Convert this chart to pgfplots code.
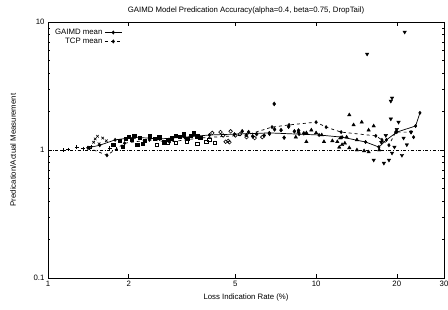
\documentclass[border=0pt]{standalone}
\usepackage{pgfplots}
\pgfplotsset{compat=1.18}
\usetikzlibrary{calc}
\usepackage{fontspec}
\setmainfont{Liberation Sans}
\begin{document}
\begin{tikzpicture}
\begin{axis}[
  scale only axis, width=396pt, height=256pt,
  xmode=log, ymode=log,
  xmin=1, xmax=30, ymin=0.1, ymax=10,
  xtick={1,2,5,10,20,30}, xticklabels={1,2,5,10,20,30},
  ytick={0.1,1,10}, yticklabels={0.1,1,10},
  minor xtick={},
  tick align=inside, major tick length=4pt, minor tick length=2pt,
  every tick/.style={black, line width=0.5pt},
  axis line style={line width=0.8pt},
  tick label style={font=\fontsize{7.8}{9}\selectfont},
  title={GAIMD Model Predication Accuracy(alpha=0.4, beta=0.75, DropTail)},
  title style={font=\fontsize{7.8}{9}\selectfont, at={(axis description cs:0.5,1.0235)}, anchor=center},
  xlabel={Loss Indication Rate (\%)},
  ylabel={Predication/Actual Measurement},
  label style={font=\fontsize{7.8}{9}\selectfont},
  xlabel style={at={(axis description cs:0.5,-0.078)}, anchor=center},
  ylabel style={at={(axis description cs:-0.088,0.5)}, anchor=center},
  legend style={draw=none, fill=none, at={(0.01,0.985)}, anchor=north west,
    font=\fontsize{7.8}{9}\selectfont, row sep=-2pt, inner sep=1pt},
  legend cell align=right,
  legend plot pos=right,
]
\addplot[black, line width=0.7pt, mark=diamond*, mark size=1.5pt] coordinates {
(1.41,1.04)(1.56,1.09)(1.78,1.20)(2.11,1.26)(2.61,1.22)(3.23,1.26)(4.0,1.31)(4.96,1.33)(6.69,1.36)(8.64,1.33)(10.26,1.31)(12.5,1.26)(15.3,1.155)(17.15,1.055)(18.3,1.20)(20,1.38)(23.5,1.54)(24.4,1.95)};
\addlegendentry{GAIMD mean}
\addplot[black, line width=0.7pt, dashed, mark=diamond*, mark size=1.5pt, mark options={solid}] coordinates {
(1.41,1.04)(1.66,0.91)(1.93,1.13)(2.39,1.20)(2.84,1.155)(3.67,1.24)(5.5,1.31)(6.85,1.51)(7.93,1.57)(10,1.65)(10.9,1.51)(12.4,1.38)(16.7,1.29)(17.6,1.20)(18.7,1.09)(19.8,1.38)(22.6,1.38)(23.1,1.26)};
\addlegendentry{TCP mean}
\addplot[black, thin, dash dot, forget plot] coordinates {(1,1)(30,1)};
% plus
\addplot[only marks, mark=+, mark size=1.8pt, black, line width=0.6pt, forget plot] coordinates {
(1.14,1.0)(1.19,1.01)(1.28,1.05)(1.35,1.03)(1.42,1.04)(1.45,1.06)(1.7,1.04)(1.8,1.02)};
% cross
\addplot[only marks, mark=x, mark size=1.8pt, black, line width=0.6pt, forget plot] coordinates {
(1.50,1.22)(1.53,1.28)(1.6,1.24)(1.48,1.15)(1.55,1.12)(1.65,1.18)};
% filled squares
\addplot[only marks, mark=square*, mark size=1.7pt, black, forget plot] coordinates {
(1.75,1.10)(1.85,1.18)(1.95,1.22)(2.0,1.27)(2.05,1.20)(2.1,1.30)(2.2,1.25)(2.3,1.18)(2.4,1.28)(2.5,1.22)(2.6,1.26)(2.7,1.15)(2.8,1.20)(2.9,1.24)(3.0,1.30)(3.1,1.27)(3.2,1.33)(3.3,1.22)(3.4,1.30)(3.5,1.35)(3.6,1.28)(3.7,1.25)(2.25,1.12)(1.9,1.06)(2.15,1.10)};
% open squares
\addplot[only marks, mark=square, mark size=1.7pt, black, line width=0.6pt, forget plot] coordinates {
(2.8,1.15)(3.0,1.14)(3.3,1.16)(3.6,1.12)(3.9,1.16)(4.2,1.14)(2.55,1.10)(4.0,1.2)};
% open circles
\addplot[only marks, mark=o, mark size=1.8pt, black, line width=0.6pt, forget plot] coordinates {
(4.1,1.36)(4.4,1.38)(4.6,1.16)(4.7,1.18)(4.8,1.40)(5.0,1.30)(5.2,1.33)(5.5,1.26)(5.9,1.24)(6.3,1.26)(4.5,1.30)(4.75,1.15)};
% filled diamonds
\addplot[only marks, mark=diamond*, mark size=2pt, black, forget plot] coordinates {
(5.3,1.40)(5.6,1.38)(6.0,1.33)(6.4,1.30)(6.7,1.34)(7.0,1.45)(7.4,1.43)(7.9,1.52)(8.3,1.40)(8.6,1.42)(7.6,1.25)(6.98,2.29)(9.0,1.35)(5.8,1.28)};
% triangles up
\addplot[only marks, mark=triangle*, mark size=2pt, black, forget plot] coordinates {
(8.4,1.26)(8.6,1.38)(9.2,1.36)(9.6,1.43)(10.0,1.36)(10.5,1.31)(9.2,1.16)(10.7,1.16)(12.0,1.16)(12.2,1.05)(12.5,1.10)(12.3,1.24)(13.0,1.26)(13.3,1.04)(14.2,1.0)(14.2,1.20)(15.1,0.985)(15.7,0.965)(15.7,1.43)(17.2,1.0)(13.3,1.88)(13.8,1.57)(14.8,1.65)(16.4,1.54)(11.5,1.18)(12.8,1.13)};
% triangles down
\addplot[only marks, mark=triangle*, mark options={rotate=180}, mark size=2pt, black, forget plot] coordinates {
(15.5,5.62)(21.4,8.35)(19.2,2.55)(19.0,2.41)(19.0,1.75)(20.3,1.65)(22.6,1.38)(21.2,1.24)(16.4,0.835)(17.9,0.79)(18.7,0.835)(20.9,0.91)(19.2,0.947)(19.6,1.055)(18.2,1.30)(20.0,1.45)(17.5,1.15)(21.8,1.10)};
\end{axis}
\pgfresetboundingbox
\path ($(current axis.south west)+(-48pt,-31pt)$) rectangle ($(current axis.north east)+(4pt,22pt)$);
\end{tikzpicture}
\end{document}
